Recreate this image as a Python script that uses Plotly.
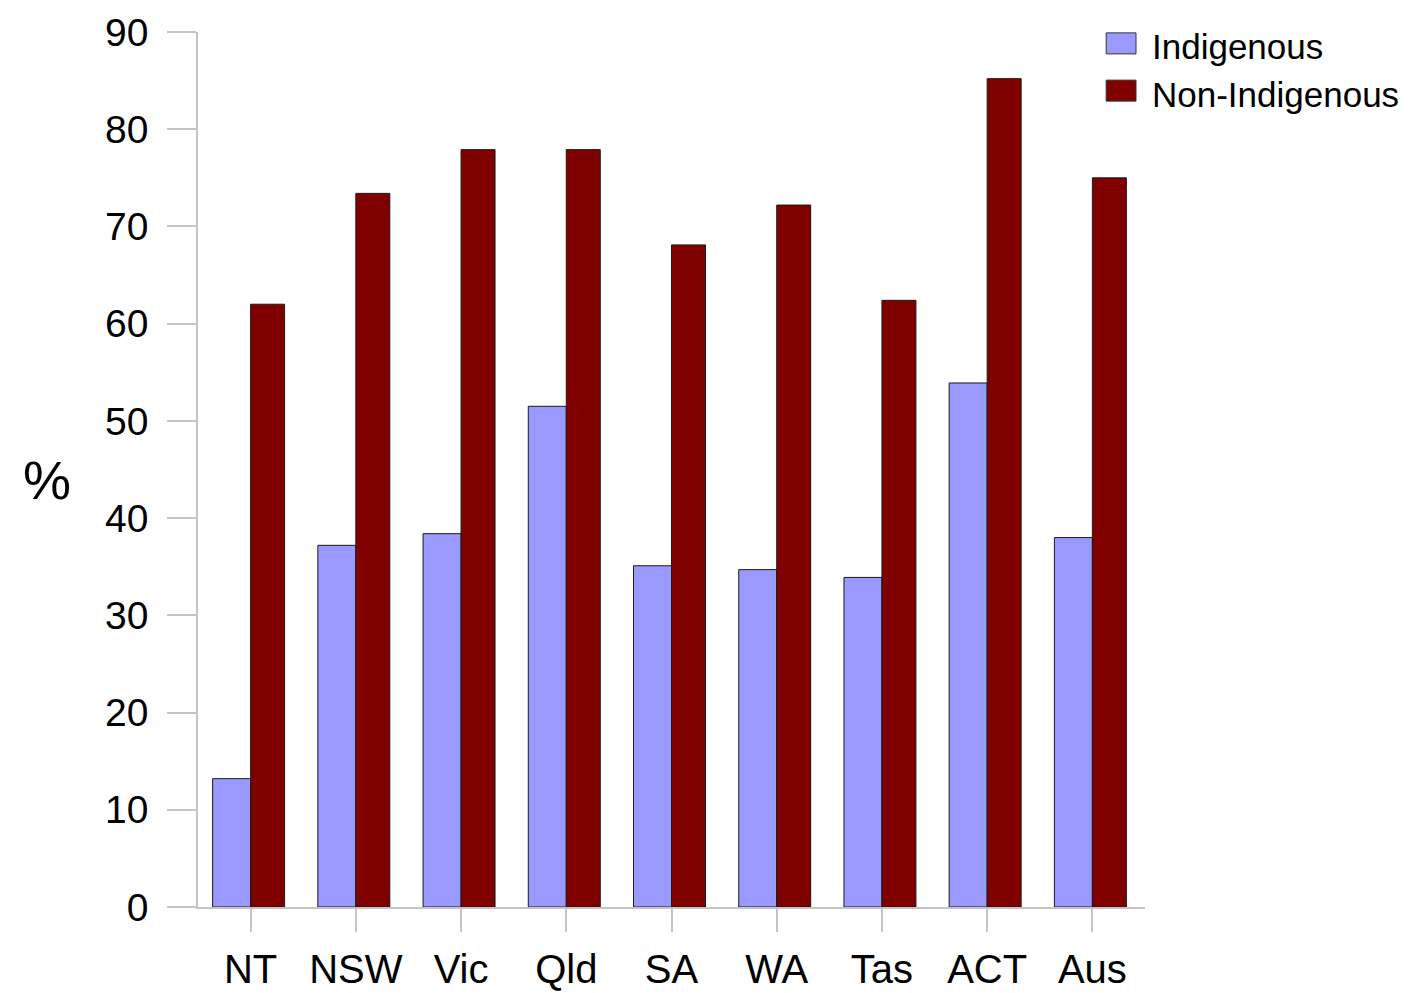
import plotly.graph_objects as go

# Данные
states = ['NT', 'NSW', 'Vic', 'Qld', 'SA', 'WA', 'Tas', 'ACT', 'Aus']
indigenous = [13.2, 37.2, 38.4, 51.5, 35.1, 34.7, 33.9, 53.9, 38.0]
non_indigenous = [62.0, 73.4, 77.9, 77.9, 68.1, 72.2, 62.4, 85.2, 75.0]
series_names = ['Indigenous', 'Non-Indigenous']
series_colors = ['#9999FF', '#800000']
y_ticks = list(range(0, 100, 10))

axis_grey = '#c4c4c4'
font_family = 'Liberation Sans, Arial, sans-serif'

fig = go.Figure()
fig.add_trace(go.Bar(
    x=states, y=indigenous, name=series_names[0],
    width=0.361, offset=-0.361,
    marker=dict(color=series_colors[0], line=dict(color='#1a1a1a', width=1)),
    showlegend=False,
))
fig.add_trace(go.Bar(
    x=states, y=non_indigenous, name=series_names[1],
    width=0.323, offset=0,
    marker=dict(color=series_colors[1], line=dict(color='#1a1a1a', width=1)),
    showlegend=False,
))

# Легенда вручную (большие квадраты как в оригинале)
for i, (name, color) in enumerate(zip(series_names, series_colors)):
    y_top = 0.999 - i * 0.054
    fig.add_shape(type='rect', xref='paper', yref='paper',
                  x0=0.959, x1=0.9905, y0=y_top - 0.024, y1=y_top,
                  fillcolor=color, line=dict(color='#333333', width=1))
    fig.add_annotation(x=1.005, y=y_top - 0.016, xref='paper', yref='paper',
                       text=name, showarrow=False, xanchor='left', yanchor='middle',
                       font=dict(size=35, color='black', family=font_family))

fig.add_annotation(x=-0.1595, y=0.488, xref='paper', yref='paper', text='%',
                   showarrow=False, xanchor='center', yanchor='middle',
                   font=dict(size=54, color='black', family=font_family))

# страница имеет отступ 8px у body, поэтому поля чуть меньше
fig.update_layout(
    width=1407, height=985,
    margin=dict(l=190, r=270, t=24, b=86),
    plot_bgcolor='white', paper_bgcolor='white',
    barmode='overlay',
    font=dict(family=font_family, color='black'),
    xaxis=dict(
        range=[-0.5, 8.5], showgrid=False, showline=True, linecolor=axis_grey, linewidth=1.5,
        ticks='outside', ticklen=23, tickcolor=axis_grey, tickwidth=1.5,
        tickfont=dict(size=40), ticklabelstandoff=3, automargin=False,
    ),
    yaxis=dict(
        range=[0, 90], tickvals=y_ticks, showgrid=False, zeroline=False,
        showline=True, linecolor=axis_grey, linewidth=1.5,
        ticks='outside', ticklen=29, tickcolor=axis_grey, tickwidth=1.5,
        tickfont=dict(size=39), ticklabelstandoff=11, automargin=False,
    ),
)

fig.write_html("out.html")
